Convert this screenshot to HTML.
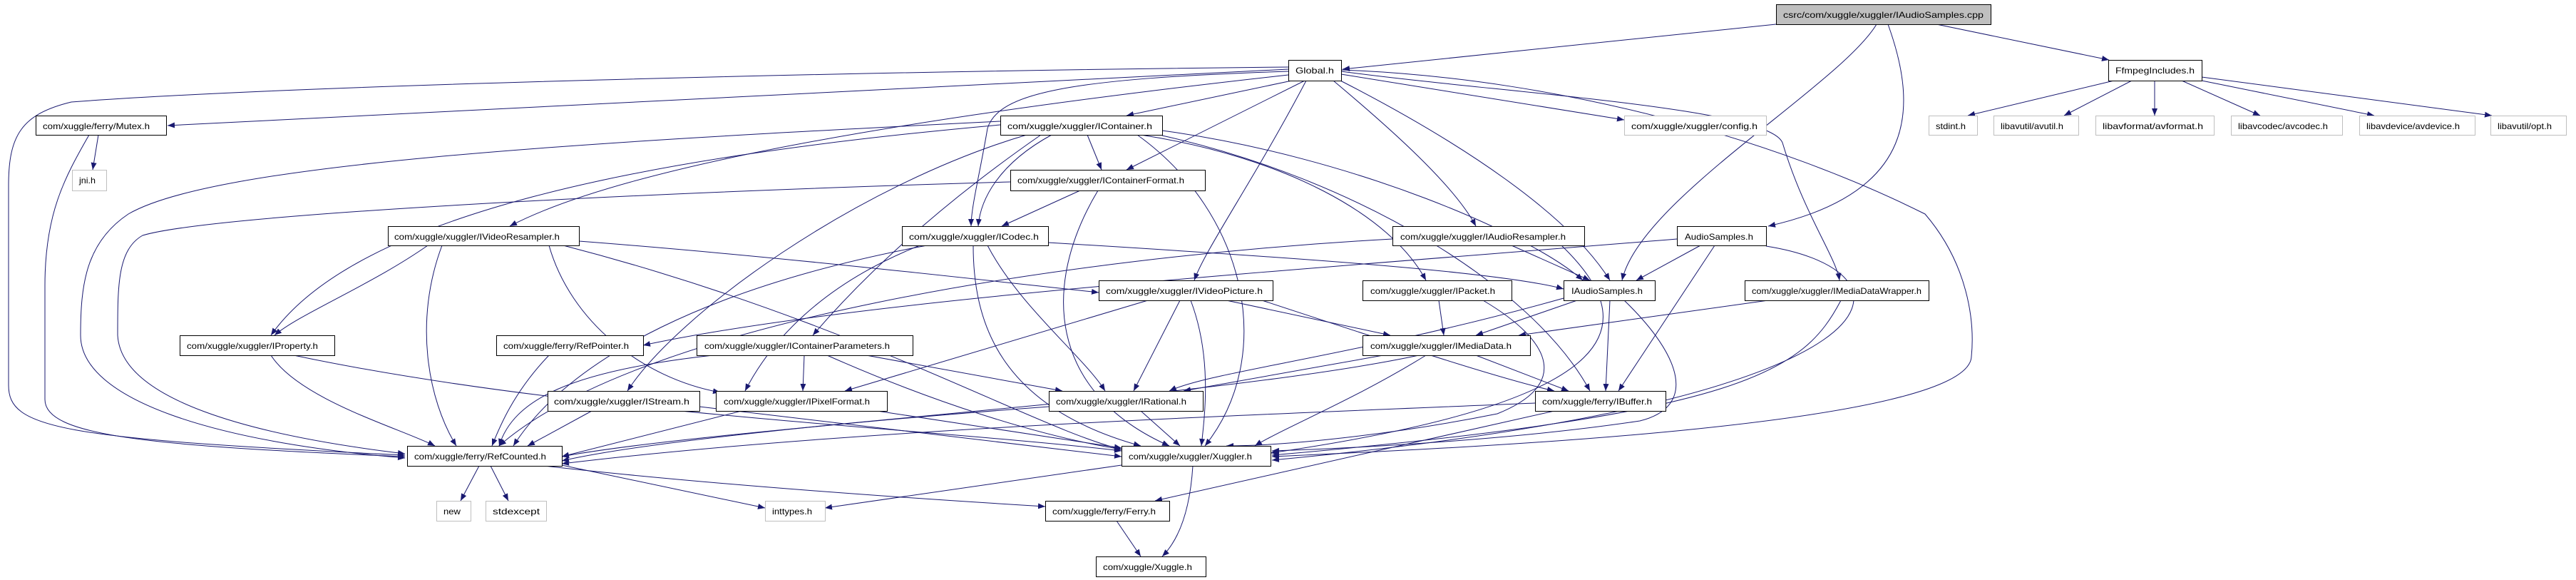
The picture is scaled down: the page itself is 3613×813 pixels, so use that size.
<!DOCTYPE html>
<html><head><meta charset="utf-8"><style>
html,body{margin:0;padding:0;background:#fff;}
svg{display:block;}
text{font-family:"Liberation Sans",sans-serif;font-size:12px;fill:#000;}
</style></head><body>
<svg width="3613" height="813" viewBox="0 0 3613 813" xmlns="http://www.w3.org/2000/svg">
<defs><marker id="a" markerUnits="userSpaceOnUse" markerWidth="11" markerHeight="9" refX="10" refY="4" orient="auto"><path d="M0,0 L10,4 L0,8 z" fill="#191970"/></marker></defs>
<g fill="none" stroke="#191970" stroke-width="1" marker-end="url(#a)">
<path d="M2491 34 L1883 97"/>
<path d="M2716 34 L2958 84"/>
<path d="M2632 34 C2580 120 2300 280 2275 393"/>
<path d="M2648 34 C2690 150 2690 270 2480 317"/>
<path d="M2965 113 L2760 162"/>
<path d="M2990 113 L2895 162"/>
<path d="M3022 113 L3022 162"/>
<path d="M3060 113 L3170 162"/>
<path d="M3088 113 L3330 162"/>
<path d="M3088 108 L3495 162"/>
<path d="M1807 97 L235 176"/>
<path d="M1807 94 C1200 100 400 120 100 143 C30 160 12 190 12 260 L12 540 C12 600 80 615 568 638"/>
<path d="M125 189 C90 250 63 300 63 400 L63 560 C63 610 200 625 568 640"/>
<path d="M1403 170 C800 200 300 230 180 300 C120 340 113 400 113 470 C113 560 300 620 568 642"/>
<path d="M1417 255 C900 270 300 300 200 330 C165 350 165 400 165 470 C170 560 350 610 568 636"/>
<path d="M1812 113 L1580 162"/>
<path d="M1830 113 L1580 238"/>
<path d="M1807 100 C1500 110 1400 130 1385 180 C1375 240 1362 290 1362 317"/>
<path d="M1881 104 L2278 168"/>
<path d="M1807 105 C1400 150 900 220 715 317"/>
<path d="M1870 113 C1950 180 2040 260 2070 317"/>
<path d="M1880 113 C2050 200 2200 300 2258 393"/>
<path d="M1832 113 C1760 250 1690 350 1675 393"/>
<path d="M1881 100 C2100 130 2480 150 2500 200 C2530 300 2575 360 2580 393"/>
<path d="M1881 98 C2200 110 2500 200 2700 300 C2760 370 2770 450 2765 500 C2760 600 2000 630 1784 640"/>
<path d="M1403 175 C900 220 500 300 380 470"/>
<path d="M600 344 C520 400 420 440 385 470"/>
<path d="M1525 189 L1545 238"/>
<path d="M1475 189 C1400 230 1375 280 1372 317"/>
<path d="M1440 189 C1200 260 950 440 880 548"/>
<path d="M1460 189 C1300 300 1200 400 1140 470"/>
<path d="M1600 189 C1800 220 1950 300 2000 393"/>
<path d="M1595 189 C1750 300 1790 500 1690 625"/>
<path d="M1630 190 C1900 250 2150 400 2230 548"/>
<path d="M1630 183 C1900 220 2150 330 2220 393"/>
<path d="M1515 267 L1405 317"/>
<path d="M1540 267 C1460 400 1470 550 1640 625"/>
<path d="M1300 344 C1000 400 800 500 720 625"/>
<path d="M1385 344 C1430 430 1520 500 1550 548"/>
<path d="M1365 344 C1365 450 1400 570 1600 625"/>
<path d="M1290 344 C1150 400 1080 480 1045 548"/>
<path d="M1470 340 C1800 360 2100 380 2193 405"/>
<path d="M812 338 C1100 360 1400 395 1541 410"/>
<path d="M620 344 C580 450 600 560 640 625"/>
<path d="M770 344 C800 450 900 530 1010 550"/>
<path d="M790 344 C1200 450 1450 600 1573 630"/>
<path d="M2120 344 L2230 393"/>
<path d="M1953 335 C1500 360 900 450 700 625"/>
<path d="M2190 344 C2300 450 2300 560 1782 635"/>
<path d="M2385 344 L2295 393"/>
<path d="M2405 344 L2270 548"/>
<path d="M2352 335 C1800 380 1200 420 902 484"/>
<path d="M2477 345 C2700 380 2700 560 1784 645"/>
<path d="M1720 421 L1950 470"/>
<path d="M1610 421 L1185 548"/>
<path d="M1655 421 L1590 548"/>
<path d="M1670 421 C1700 500 1690 580 1685 625"/>
<path d="M1770 421 C1950 480 2100 530 2180 548"/>
<path d="M2018 421 L2025 470"/>
<path d="M2080 421 C2180 480 2200 540 2100 580 C1950 610 1800 625 1720 625"/>
<path d="M2212 421 L2070 470"/>
<path d="M2258 421 L2252 548"/>
<path d="M2278 421 C2360 500 2380 570 2300 590 C2100 620 1850 630 1784 632"/>
<path d="M2193 418 C1900 500 1700 520 1640 548"/>
<path d="M2480 421 L2130 470"/>
<path d="M2582 421 C2530 520 2450 580 1784 638"/>
<path d="M380 498 C420 560 560 600 610 625"/>
<path d="M412 498 C800 580 1300 600 1573 632"/>
<path d="M770 498 C720 550 700 600 690 625"/>
<path d="M1128 498 L1126 548"/>
<path d="M1215 498 L1490 548"/>
<path d="M1000 498 C800 520 720 560 700 625"/>
<path d="M1160 498 C1300 560 1450 610 1573 630"/>
<path d="M1940 498 L1660 548"/>
<path d="M2070 498 L2200 548"/>
<path d="M1990 498 C1700 560 1000 600 788 640"/>
<path d="M2000 498 C1900 560 1800 600 1760 625"/>
<path d="M830 576 L740 625"/>
<path d="M981 570 L1573 640"/>
<path d="M1040 576 L788 640"/>
<path d="M1230 576 L1573 628"/>
<path d="M1471 570 C1200 590 900 620 788 646"/>
<path d="M1600 576 L1655 625"/>
<path d="M2153 565 C1800 580 1200 600 788 650"/>
<path d="M2180 576 L1620 702"/>
<path d="M672 653 L646 702"/>
<path d="M688 653 L713 702"/>
<path d="M788 652 L1073 712"/>
<path d="M763 653 C1000 680 1300 700 1466 710"/>
<path d="M1573 652 L1157 712"/>
<path d="M1673 653 C1670 700 1660 750 1630 780"/>
<path d="M1566 730 L1600 780"/>
<path d="M138 189 L130 238"/>
</g>
<g stroke-width="1">
<rect x="2491.5" y="6.5" width="301" height="28" fill="#bfbfbf" stroke="#000"/>
<text x="2501" y="25" textLength="281" lengthAdjust="spacingAndGlyphs">csrc/com/xuggle/xuggler/IAudioSamples.cpp</text>
<rect x="1807.5" y="84.5" width="74" height="29" fill="#fff" stroke="#000"/>
<text x="1817" y="103" textLength="54" lengthAdjust="spacingAndGlyphs">Global.h</text>
<rect x="2957.5" y="84.5" width="131" height="29" fill="#fff" stroke="#000"/>
<text x="2967" y="103" textLength="111" lengthAdjust="spacingAndGlyphs">FfmpegIncludes.h</text>
<rect x="50.5" y="162.5" width="183" height="27" fill="#fff" stroke="#000"/>
<text x="60" y="181" textLength="150" lengthAdjust="spacingAndGlyphs">com/xuggle/ferry/Mutex.h</text>
<rect x="1403.5" y="162.5" width="227" height="27" fill="#fff" stroke="#000"/>
<text x="1413" y="181" textLength="203" lengthAdjust="spacingAndGlyphs">com/xuggle/xuggler/IContainer.h</text>
<rect x="2278.5" y="162.5" width="199" height="27" fill="#fff" stroke="#bfbfbf"/>
<text x="2288" y="181" textLength="177" lengthAdjust="spacingAndGlyphs">com/xuggle/xuggler/config.h</text>
<rect x="2705.5" y="162.5" width="68" height="27" fill="#fff" stroke="#bfbfbf"/>
<text x="2715" y="181" textLength="42" lengthAdjust="spacingAndGlyphs">stdint.h</text>
<rect x="2796.5" y="162.5" width="119" height="27" fill="#fff" stroke="#bfbfbf"/>
<text x="2806" y="181" textLength="88" lengthAdjust="spacingAndGlyphs">libavutil/avutil.h</text>
<rect x="2939.5" y="162.5" width="166" height="27" fill="#fff" stroke="#bfbfbf"/>
<text x="2949" y="181" textLength="141" lengthAdjust="spacingAndGlyphs">libavformat/avformat.h</text>
<rect x="3129.5" y="162.5" width="156" height="27" fill="#fff" stroke="#bfbfbf"/>
<text x="3139" y="181" textLength="126" lengthAdjust="spacingAndGlyphs">libavcodec/avcodec.h</text>
<rect x="3309.5" y="162.5" width="162" height="27" fill="#fff" stroke="#bfbfbf"/>
<text x="3319" y="181" textLength="131" lengthAdjust="spacingAndGlyphs">libavdevice/avdevice.h</text>
<rect x="3493.5" y="162.5" width="106" height="27" fill="#fff" stroke="#bfbfbf"/>
<text x="3503" y="181" textLength="76" lengthAdjust="spacingAndGlyphs">libavutil/opt.h</text>
<rect x="101.5" y="238.5" width="48" height="29" fill="#fff" stroke="#bfbfbf"/>
<text x="111" y="257" textLength="23" lengthAdjust="spacingAndGlyphs">jni.h</text>
<rect x="1417.5" y="238.5" width="273" height="29" fill="#fff" stroke="#000"/>
<text x="1427" y="257" textLength="234" lengthAdjust="spacingAndGlyphs">com/xuggle/xuggler/IContainerFormat.h</text>
<rect x="544.5" y="317.5" width="268" height="27" fill="#fff" stroke="#000"/>
<text x="553" y="336" textLength="232" lengthAdjust="spacingAndGlyphs">com/xuggle/xuggler/IVideoResampler.h</text>
<rect x="1265.5" y="317.5" width="205" height="27" fill="#fff" stroke="#000"/>
<text x="1275" y="336" textLength="182" lengthAdjust="spacingAndGlyphs">com/xuggle/xuggler/ICodec.h</text>
<rect x="1953.5" y="317.5" width="269" height="27" fill="#fff" stroke="#000"/>
<text x="1964" y="336" textLength="232" lengthAdjust="spacingAndGlyphs">com/xuggle/xuggler/IAudioResampler.h</text>
<rect x="2352.5" y="317.5" width="125" height="27" fill="#fff" stroke="#000"/>
<text x="2363" y="336" textLength="96" lengthAdjust="spacingAndGlyphs">AudioSamples.h</text>
<rect x="1541.5" y="393.5" width="244" height="28" fill="#fff" stroke="#000"/>
<text x="1551" y="412" textLength="220" lengthAdjust="spacingAndGlyphs">com/xuggle/xuggler/IVideoPicture.h</text>
<rect x="1911.5" y="393.5" width="209" height="28" fill="#fff" stroke="#000"/>
<text x="1922" y="412" textLength="175" lengthAdjust="spacingAndGlyphs">com/xuggle/xuggler/IPacket.h</text>
<rect x="2193.5" y="393.5" width="128" height="28" fill="#fff" stroke="#000"/>
<text x="2204" y="412" textLength="100" lengthAdjust="spacingAndGlyphs">IAudioSamples.h</text>
<rect x="2447.5" y="393.5" width="258" height="28" fill="#fff" stroke="#000"/>
<text x="2457" y="412" textLength="238" lengthAdjust="spacingAndGlyphs">com/xuggle/xuggler/IMediaDataWrapper.h</text>
<rect x="252.5" y="470.5" width="217" height="28" fill="#fff" stroke="#000"/>
<text x="262" y="489" textLength="184" lengthAdjust="spacingAndGlyphs">com/xuggle/xuggler/IProperty.h</text>
<rect x="696.5" y="470.5" width="206" height="28" fill="#fff" stroke="#000"/>
<text x="706" y="489" textLength="176" lengthAdjust="spacingAndGlyphs">com/xuggle/ferry/RefPointer.h</text>
<rect x="977.5" y="470.5" width="303" height="28" fill="#fff" stroke="#000"/>
<text x="988" y="489" textLength="260" lengthAdjust="spacingAndGlyphs">com/xuggle/xuggler/IContainerParameters.h</text>
<rect x="1911.5" y="470.5" width="235" height="28" fill="#fff" stroke="#000"/>
<text x="1922" y="489" textLength="198" lengthAdjust="spacingAndGlyphs">com/xuggle/xuggler/IMediaData.h</text>
<rect x="768.5" y="548.5" width="213" height="28" fill="#fff" stroke="#000"/>
<text x="777" y="567" textLength="190" lengthAdjust="spacingAndGlyphs">com/xuggle/xuggler/IStream.h</text>
<rect x="1004.5" y="548.5" width="240" height="28" fill="#fff" stroke="#000"/>
<text x="1015" y="567" textLength="205" lengthAdjust="spacingAndGlyphs">com/xuggle/xuggler/IPixelFormat.h</text>
<rect x="1471.5" y="548.5" width="216" height="28" fill="#fff" stroke="#000"/>
<text x="1481" y="567" textLength="183" lengthAdjust="spacingAndGlyphs">com/xuggle/xuggler/IRational.h</text>
<rect x="2153.5" y="548.5" width="183" height="28" fill="#fff" stroke="#000"/>
<text x="2163" y="567" textLength="154" lengthAdjust="spacingAndGlyphs">com/xuggle/ferry/IBuffer.h</text>
<rect x="571.5" y="625.5" width="217" height="28" fill="#fff" stroke="#000"/>
<text x="581" y="644" textLength="185" lengthAdjust="spacingAndGlyphs">com/xuggle/ferry/RefCounted.h</text>
<rect x="1573.5" y="625.5" width="209" height="28" fill="#fff" stroke="#000"/>
<text x="1583" y="644" textLength="173" lengthAdjust="spacingAndGlyphs">com/xuggle/xuggler/Xuggler.h</text>
<rect x="612.5" y="702.5" width="48" height="28" fill="#fff" stroke="#bfbfbf"/>
<text x="622" y="721" textLength="24" lengthAdjust="spacingAndGlyphs">new</text>
<rect x="681.5" y="702.5" width="85" height="28" fill="#fff" stroke="#bfbfbf"/>
<text x="691" y="721" textLength="66" lengthAdjust="spacingAndGlyphs">stdexcept</text>
<rect x="1073.5" y="702.5" width="84" height="28" fill="#fff" stroke="#bfbfbf"/>
<text x="1083" y="721" textLength="56" lengthAdjust="spacingAndGlyphs">inttypes.h</text>
<rect x="1466.5" y="702.5" width="174" height="28" fill="#fff" stroke="#000"/>
<text x="1476" y="721" textLength="145" lengthAdjust="spacingAndGlyphs">com/xuggle/ferry/Ferry.h</text>
<rect x="1537.5" y="780.5" width="154" height="28" fill="#fff" stroke="#000"/>
<text x="1547" y="799" textLength="125" lengthAdjust="spacingAndGlyphs">com/xuggle/Xuggle.h</text>
</g>
</svg>
</body></html>
